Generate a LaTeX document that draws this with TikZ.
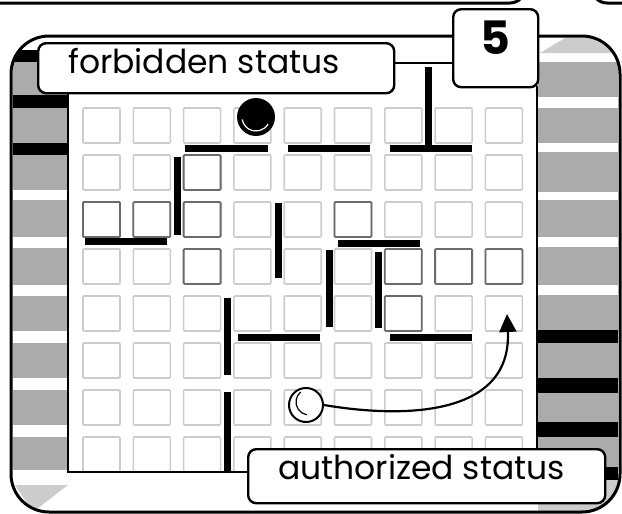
\documentclass[tikz,border=0pt]{standalone}
\usepackage{fontspec}
\setmainfont{Poppins}
\usetikzlibrary{arrows.meta,positioning,calc}
\definecolor{stripegray}{gray}{0.67}
\definecolor{palegray}{gray}{0.8}
\definecolor{cellpale}{gray}{0.8}
\definecolor{celldark}{gray}{0.42}

\begin{document}
\begin{tikzpicture}[x=1pt,y=-1pt,
  wall/.style={line width=7pt},
  cell/.style={draw=cellpale,line width=1.6pt,rounded corners=1pt},
  darkcell/.style={draw=celldark,line width=1.8pt,rounded corners=1pt},
  tag/.style={draw,fill=white,line width=2.4pt,rounded corners=8pt,font=\fontsize{33}{40}\selectfont,inner ysep=5pt,inner xsep=30pt}]
  \useasboundingbox (0,0) rectangle (622,514);
  \clip (0,0) rectangle (622,514);
  \draw[line width=3pt,rounded corners=15pt] (-20,-40) rectangle (525,3);
  \draw[line width=3pt,rounded corners=15pt] (592,3) rectangle (660,-40);
  \begin{scope}
    \clip[rounded corners=38pt] (11,36) rectangle (620,512);
    \foreach \ya/\yb/\col in {50/62/black,62/95/stripegray,95/108/black,108/143/stripegray,143/155/black,155/190/stripegray,
      200/237/stripegray,248/285/stripegray,296/331/stripegray,343/378/stripegray,390/425/stripegray,437/470/stripegray}
      \fill[\col] (13,\ya) rectangle (67,\yb);
    \fill[palegray] (15,485) -- (68,485) -- (33,512) -- cycle;
    \fill[palegray] (540,53) -- (565,38) -- (592,38) -- (618,53) -- cycle;
    \foreach \ya/\yb/\col in {62/97/stripegray,108/143/stripegray,152/192/stripegray,200/237/stripegray,247/285/stripegray,
      295/330/stripegray,330/343/black,343/378/stripegray,378/393/black,393/422/stripegray,422/437/black,437/467/stripegray,
      467/480/black,480/512/palegray}
      \fill[\col] (538,\ya) rectangle (618,\yb);
  \end{scope}
  \foreach \c in {0,...,8}
    \foreach \r in {0,...,7}
      \draw[cell] ({83+50.3*\c},{108+47*\r}) rectangle ++(37,35);
  \foreach \c/\r in {2/1,0/2,1/2,2/2,5/2,2/3,6/3,7/3,8/3,6/4}
    \draw[darkcell] ({83+50.3*\c},{108+47*\r}) rectangle ++(37,35);
  \draw[line width=2.5pt] (68,50) -- (68,472) -- (537,472) -- (537,86);
  \foreach \xa/\ya/\xb/\yb in {185/148/268/148,288/148/370/148,390/148/472/148,428/67/428/148,177/157/177/235,
    85/241/167/241,278/203/278/278,338/243/420/243,329/250/329/327,378/252/378/328,390/337/472/337,
    238/337/320/337,227/298/227/375,227/392/227/471}
    \draw[wall] (\xa,\ya) -- (\xb,\yb);
  \node[circle,fill=black,minimum size=38pt,inner sep=0pt] (ball) at (256,117) {};
  \draw[white,line width=1.2pt] ([shift={(30:14)}]256,117) arc[start angle=30,end angle=170,radius=14];
  \node[circle,draw,fill=white,line width=2pt,minimum size=34pt,inner sep=0pt] (start) at (306,405) {};
  \draw[line width=1.2pt] ([shift={(100:13)}]309,402) arc[start angle=100,end angle=230,radius=13];
  \coordinate (goal) at (507,314);
  \draw[line width=2.2pt,-{Triangle[length=18pt,width=17pt]}] (start.east) .. controls (400,418) and (512,418) .. (goal);
  \draw[line width=3pt,rounded corners=38pt] (11,36) rectangle (620,512);
  \node[tag,text height=25pt,text depth=15pt,anchor=north west] (forb) at (37,42) {\makebox[296pt][l]{forbidden status}};
  \node[tag,text height=25pt,text depth=19pt,anchor=north west] (auth) at (247,448) {\makebox[297pt][l]{authorized status}};
  \node[draw,fill=white,line width=2.4pt,rounded corners=8pt,minimum width=85pt,inner sep=0pt,text height=45pt,text depth=33pt,
    font=\fontsize{46}{50}\selectfont\bfseries,anchor=north west] (five) at (452,8) {5};
  \coordinate (link) at ($(forb.east)+(0,-5)$);
  \draw[line width=2.4pt] (link) -- (link -| five.west);
\end{tikzpicture}
\end{document}
